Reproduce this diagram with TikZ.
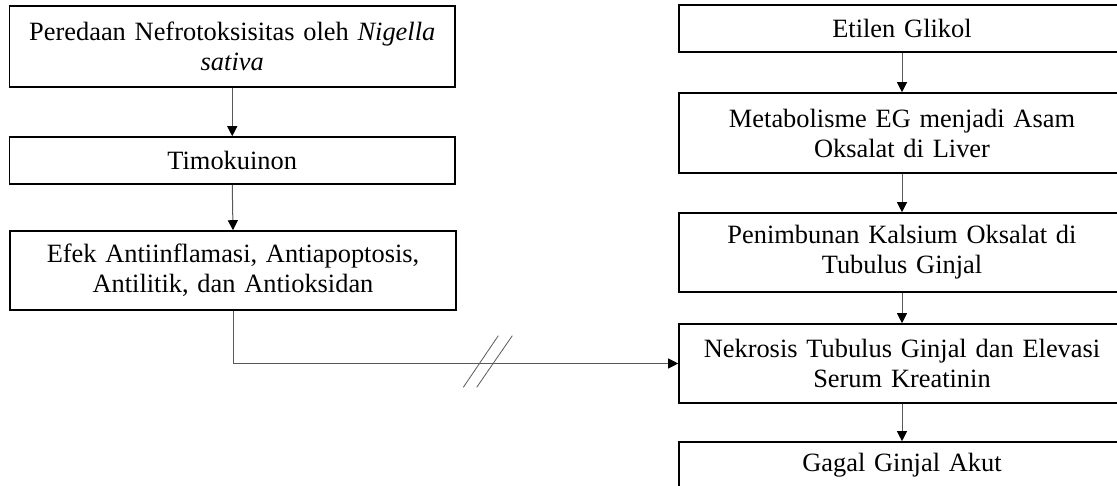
\documentclass[tikz,border=0pt]{standalone}
\usepackage{fontspec}
\setmainfont{Liberation Serif}[WordSpace=1.25]
\usetikzlibrary{arrows.meta}
\tikzset{
  box/.style={draw=black, line width=1.6pt, rectangle, inner sep=0pt, align=center,
    font=\fontsize{26.4}{30}\selectfont},
  lbox/.style={box, minimum width=445.5pt, text width=440pt},
  rbox/.style={box, minimum width=446pt, text width=440pt},
  conn/.style={draw=black!65, line width=1pt, -{Triangle[length=10pt,width=10pt,fill=black,color=black]}},
  plain/.style={draw=black!65, line width=1pt},
}
\begin{document}
\begin{tikzpicture}[x=1pt,y=-1pt]
\useasboundingbox (0,0) rectangle (1117,486);
\clip (0,0) rectangle (1117,486);
% left column
\node[lbox, minimum height=81pt] (a1) at (232.25,46.5) {Peredaan Nefrotoksisitas oleh \textit{Nigella}\\\textit{sativa}};
\node[lbox, minimum height=47pt] (a2) at (232.25,160.5) {Timokuinon};
\node[lbox, minimum height=79pt] (a3) at (233,270.5) {Efek Antiinflamasi, Antiapoptosis,\\Antilitik, dan Antioksidan};
% right column
\node[rbox, minimum height=47pt] (r1) at (902,28.5) {Etilen Glikol};
\node[rbox, minimum height=80pt] (r2) at (902,133) {Metabolisme EG menjadi Asam\\Oksalat di Liver};
\node[rbox, minimum height=79pt] (r3) at (902,252.5) {Penimbunan Kalsium Oksalat di\\Tubulus Ginjal};
\node[rbox, minimum height=79pt] (r4) at (902,363.5) {Nekrosis Tubulus Ginjal dan Elevasi\\Serum Kreatinin};
\node[rbox, minimum height=47pt] (r5) at (902,465.5) {Gagal Ginjal Akut};
% connectors
\draw[conn] (a1.south) -- (a2.north);
\draw[conn] (a2.south) -- (a3.north);
\draw[conn] (a3.south) |- (r4.west);
\draw[conn] (r1.south) -- (r2.north);
\draw[conn] (r2.south) -- (r3.north);
\draw[conn] (r3.south) -- (r4.north);
\draw[conn] (r4.south) -- (r5.north);
% break marks
\draw[plain, line width=0.8pt] (463.3,387.3) -- (498.3,335.7);
\draw[plain, line width=0.8pt] (476.7,387.3) -- (512.3,335.7);
\end{tikzpicture}
\end{document}
